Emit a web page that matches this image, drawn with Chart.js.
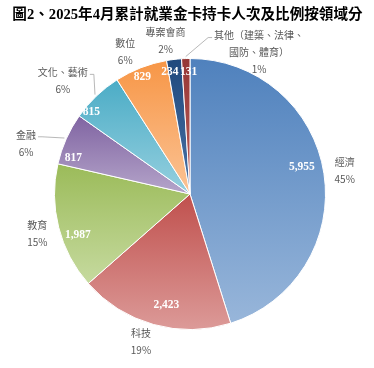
<!DOCTYPE html>
<html>
<head>
<meta charset="utf-8">
<script src="https://cdn.jsdelivr.net/npm/chart.js@4.4.1/dist/chart.umd.min.js"></script>
<style>
  html, body { margin: 0; padding: 0; background: #fff; }
</style>
</head>
<body>
<canvas id="myChart" width="374" height="368"></canvas>
<script>
const title = "圖2、2025年4月累計就業金卡持卡人次及比例按領域分";
const categories = [["經濟"], ["科技"], ["教育"], ["金融"], ["文化、藝術"], ["數位"], ["專案會商"], ["其他（建築、法律、", "國防、體育）"]];
const counts = [5955, 2423, 1987, 817, 815, 829, 234, 131];
const percentLabels = ["45%", "19%", "15%", "6%", "6%", "6%", "2%", "1%"];

// slice gradients (top -> bottom of each slice)
const topColors = ['#4f81bd', '#c0504d', '#9bbb59', '#8064a2', '#4bacc6', '#f79646', '#1f497d', '#953735'];
const bottomColors = ['#98b6da', '#dc9a98', '#c6da9f', '#b5a5ca', '#96d0df', '#fbc395', '#4a72a6', '#c0605c'];

// label placement tweaks
const valueRadius = [0.85, 0.84, 0.88, 0.90, 0.945, 0.935, 0.91, 0.90];
const valueShift = [-5, -3.6, -5.7, -7, -6.6, -0.8, -2.6, 1.2];
const outerOffset = [[0, 0], [-7, -3], [-1, 1], [-21, 13], [-19, 0], [-8, 3.5], [-6, 2.5], [74, 15]];
const hasLeader = [false, false, false, true, true, false, false, true];

function sliceGradients(chart) {
    const ctx = chart.ctx;
    chart.getDatasetMeta(0).data.forEach((arc, i) => {
        const p = arc.getProps(['x', 'y', 'outerRadius', 'startAngle', 'endAngle'], true);
        const ys = [p.y, p.y + p.outerRadius * Math.sin(p.startAngle), p.y + p.outerRadius * Math.sin(p.endAngle)];
        [-Math.PI / 2, Math.PI / 2, 3 * Math.PI / 2].forEach(a => {
            if (a >= p.startAngle && a <= p.endAngle) ys.push(p.y + p.outerRadius * Math.sin(a));
        });
        const g = ctx.createLinearGradient(0, Math.min(...ys), 0, Math.max(...ys));
        g.addColorStop(0, topColors[i]);
        g.addColorStop(1, bottomColors[i]);
        arc.options.backgroundColor = g;
    });
}

const piePlugin = {
    id: 'pieExtras',
    beforeDatasetsDraw(chart) {
        sliceGradients(chart);
    },
    afterDatasetsDraw(chart) {
        const ctx = chart.ctx;
        ctx.save();
        ctx.textAlign = 'center';
        ctx.textBaseline = 'middle';

        // title
        ctx.fillStyle = '#000';
        ctx.font = 'bold 14.6px "Liberation Serif", "Noto Sans CJK TC"';
        ctx.fillText(title, 187.5, 15);

        chart.getDatasetMeta(0).data.forEach((arc, i) => {
            const p = arc.getProps(['x', 'y', 'outerRadius', 'startAngle', 'endAngle'], true);
            const mid = (p.startAngle + p.endAngle) / 2;

            // value inside slice
            const a = mid + valueShift[i] * Math.PI / 180;
            const r = p.outerRadius * valueRadius[i];
            ctx.fillStyle = '#fff';
            ctx.font = 'bold 11.5px "Liberation Serif"';
            ctx.fillText(counts[i].toLocaleString('en-US'), p.x + r * Math.cos(a), p.y + r * Math.sin(a));

            // category + percent outside
            const ro = p.outerRadius * 1.155;
            const lx = p.x + ro * Math.cos(mid) + outerOffset[i][0];
            const ly = p.y + ro * Math.sin(mid) + outerOffset[i][1];
            const lines = categories[i].concat([percentLabels[i]]);
            const lh = 17;
            const y0 = ly - (lines.length - 1) * lh / 2;
            ctx.fillStyle = '#595959';
            ctx.font = '10px "Noto Sans CJK TC"';
            lines.forEach((t, k) => ctx.fillText(t, lx, y0 + k * lh));

            if (hasLeader[i]) {
                const w = ctx.measureText(lines[0]).width;
                const side = lx < p.x ? 1 : -1;
                const sx = lx + side * (w / 2 + 2);
                const sy = y0 + 2;
                const er = p.outerRadius + 2;
                ctx.strokeStyle = '#a6a6a6';
                ctx.lineWidth = 0.8;
                ctx.beginPath();
                ctx.moveTo(sx, sy);
                ctx.lineTo(sx + side * 4, sy);
                ctx.lineTo(p.x + er * Math.cos(mid), p.y + er * Math.sin(mid));
                ctx.stroke();
            }
        });
        ctx.restore();
    }
};

const ctx = document.getElementById("myChart").getContext("2d");
new Chart(ctx, {
    type: 'pie',
    data: {
        labels: categories.map(c => c.join('')),
        datasets: [{
            data: counts,
            backgroundColor: topColors,
            borderColor: '#ffffff',
            borderWidth: 1
        }]
    },
    options: {
        responsive: false,
        animation: false,
        layout: { padding: { left: 54, top: 58, right: 48, bottom: 38 } },
        plugins: {
            legend: { display: false },
            title: { display: false },
            tooltip: { enabled: false }
        }
    },
    plugins: [piePlugin]
});
</script>
</body>
</html>
